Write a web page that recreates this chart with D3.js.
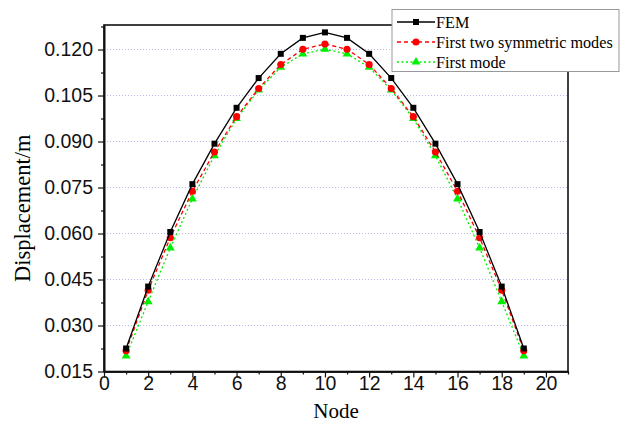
<!DOCTYPE html>
<html><head><meta charset="utf-8">
<script src="https://cdn.jsdelivr.net/npm/d3@7"></script>
<style>body{margin:0;background:#fff}svg{display:block}</style>
</head><body><svg id="c" width="623" height="423"></svg>
<script>
const nodes = [1,2,3,4,5,6,7,8,9,10,11,12,13,14,15,16,17,18,19];
const fem = [0.0225,0.0427,0.0605,0.0761,0.0893,0.1010,0.1107,0.1186,0.1238,0.1256,0.1238,0.1186,0.1107,0.1010,0.0893,0.0761,0.0605,0.0427,0.0225];
const twoModes = [0.0218,0.0415,0.0586,0.0738,0.0866,0.0981,0.1073,0.1151,0.1201,0.1218,0.1201,0.1151,0.1073,0.0981,0.0866,0.0738,0.0586,0.0415,0.0218];
const firstMode = [0.0201,0.0378,0.0553,0.0713,0.0854,0.0975,0.1068,0.1142,0.1186,0.1201,0.1186,0.1142,0.1068,0.0975,0.0854,0.0713,0.0553,0.0378,0.0201];
const xTicks = [0,2,4,6,8,10,12,14,16,18,20];
const yTicks = [0.015,0.030,0.045,0.060,0.075,0.090,0.105,0.120];
const seriesNames = ["FEM","First two symmetric modes","First mode"];

const svg = d3.select("#c");
const L=104, R=568, T=25, B=371.5;
const x = d3.scaleLinear().domain([0,21]).range([L,R]);
const y = d3.scaleLinear().domain([0.015,0.128]).range([B,T]);

// gridlines
svg.append("g").selectAll("line").data(yTicks.filter(v=>v>0.016)).join("line")
  .attr("x1",L).attr("x2",R).attr("y1",d=>y(d)).attr("y2",d=>y(d))
  .attr("stroke","#b8b8f0").attr("stroke-width",1).attr("stroke-dasharray","1,2");

// frame
svg.append("rect").attr("x",L).attr("y",T).attr("width",R-L).attr("height",B-T)
  .attr("fill","none").attr("stroke","#111").attr("stroke-width",1.6);

// axes
const xMinor = d3.range(1,22,2);
const gx = svg.append("g").attr("transform",`translate(0,${B})`);
gx.call(d3.axisBottom(x).tickValues(xTicks).tickFormat(d3.format("d")).tickSize(6).tickSizeOuter(0));
gx.append("g").call(d3.axisBottom(x).tickValues(xMinor).tickFormat("").tickSize(3).tickSizeOuter(0));
const yMinor = d3.range(0,8).map(i=>0.0225+i*0.015);
const gy = svg.append("g").attr("transform",`translate(${L},0)`);
gy.call(d3.axisLeft(y).tickValues(yTicks).tickFormat(d3.format(".3f")).tickSize(6).tickSizeOuter(0));
gy.append("g").call(d3.axisLeft(y).tickValues(yMinor).tickFormat("").tickSize(3).tickSizeOuter(0));
svg.selectAll(".domain").attr("stroke","#111").attr("stroke-width",1.6);
svg.selectAll(".tick line").attr("stroke","#111").attr("stroke-width",1.2);
gx.selectAll(".tick text").attr("font-family","Liberation Sans, Arial, sans-serif").attr("font-size",19.5).attr("fill","#111").attr("y",5).attr("dy","0.71em");
gy.selectAll(".tick text").attr("font-family","Liberation Sans, Arial, sans-serif").attr("font-size",19.5).attr("fill","#111").attr("dx","-0.1em");

// titles
svg.append("text").attr("x",(L+R)/2).attr("y",418).attr("text-anchor","middle")
  .attr("font-family","Liberation Serif, Times New Roman, serif").attr("font-size",21).text("Node");
svg.append("text").attr("transform",`translate(30,${(T+B)/2+10}) rotate(-90)`).attr("text-anchor","middle")
  .attr("font-family","Liberation Serif, Times New Roman, serif").attr("font-size",22.5).text("Displacement/m");

const series = [
  {name:seriesNames[0], vals:fem, color:"#000", dash:null, sym:d3.symbolSquare, size:36},
  {name:seriesNames[1], vals:twoModes, color:"#ff0000", dash:"4,3", sym:d3.symbolCircle, size:40},
  {name:seriesNames[2], vals:firstMode, color:"#00ee00", dash:"2,2.5", sym:d3.symbolTriangle, size:34}
];
const line = d3.line().x(d=>x(d[0])).y(d=>y(d[1]));
series.slice().reverse().forEach(s=>{
  const pts = nodes.map((n,i)=>[n,s.vals[i]]);
  svg.append("path").datum(pts).attr("d",line).attr("fill","none")
    .attr("stroke",s.color).attr("stroke-width",1.3).attr("stroke-dasharray",s.dash);
  svg.append("g").selectAll("path").data(pts).join("path")
    .attr("transform",d=>`translate(${x(d[0])},${y(d[1])})`)
    .attr("d",d3.symbol().type(s.sym).size(s.size)).attr("fill",s.color);
});

// legend
const lg = svg.append("g");
lg.append("rect").attr("x",392).attr("y",9.5).attr("width",227).attr("height",62)
  .attr("fill","#fff").attr("stroke","#999").attr("stroke-width",1);
series.forEach((s,i)=>{
  const yy = 22+i*20;
  lg.append("line").attr("x1",397).attr("x2",435).attr("y1",yy).attr("y2",yy)
    .attr("stroke",s.color).attr("stroke-width",1.3).attr("stroke-dasharray",s.dash);
  lg.append("path").attr("transform",`translate(416,${yy})`).attr("d",d3.symbol().type(s.sym).size(s.size)).attr("fill",s.color);
  lg.append("text").attr("x",436).attr("y",yy+5.5).attr("font-family","Liberation Serif, Times New Roman, serif")
    .attr("font-size",16.2).text(s.name);
});
</script></body></html>
